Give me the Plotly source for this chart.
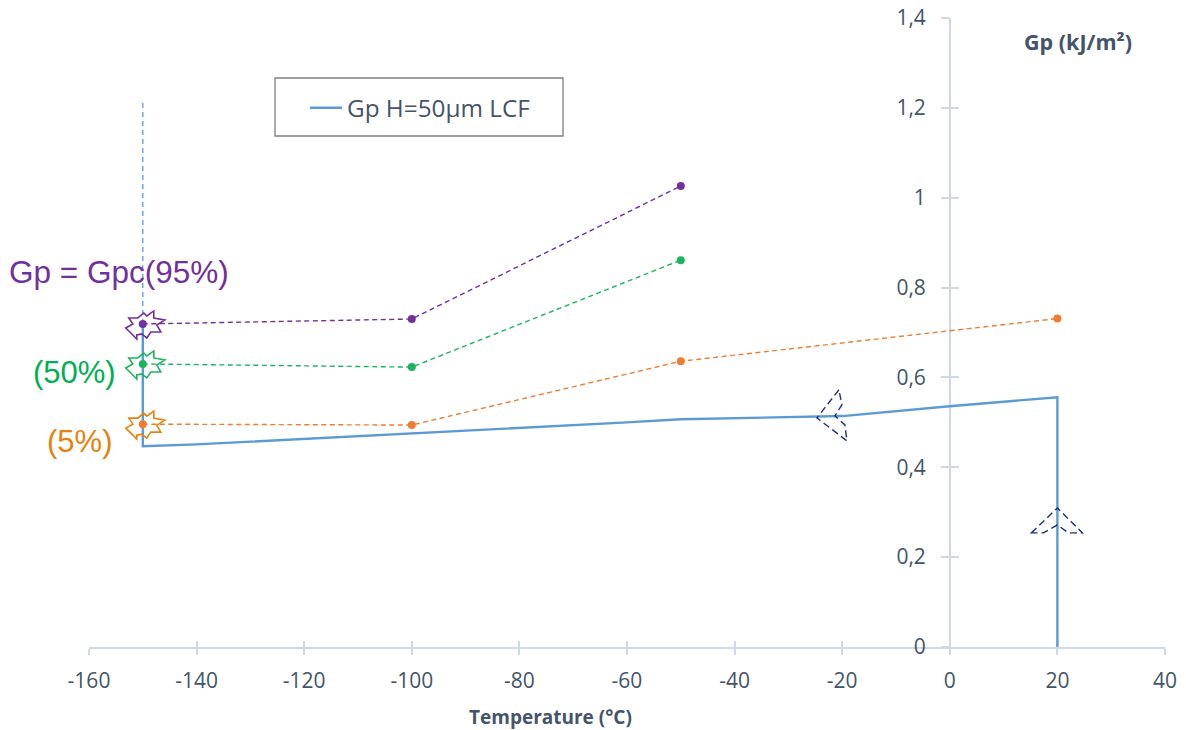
import plotly.graph_objects as go

# ---- data ----
blue_x = [20, 20, 10, 0, -20, -30, -50, -60, -80, -100, -120, -140, -150, -150]
blue_y = [0, 0.556, 0.546, 0.536, 0.514, 0.512, 0.507, 0.500, 0.488, 0.476, 0.463, 0.451, 0.447, 0.719]
guide_x = [-150, -150]
guide_y = [0.719, 1.217]
orange_x = [-150, -100, -50, 20]
orange_y = [0.496, 0.494, 0.636, 0.731]
green_x = [-150, -100, -50]
green_y = [0.630, 0.623, 0.861]
purple_x = [-150, -100, -50]
purple_y = [0.719, 0.730, 1.026]
x_ticks = [-160, -140, -120, -100, -80, -60, -40, -20, 0, 20, 40]
x_labels = [str(v) for v in x_ticks]
y_ticks = [0, 0.2, 0.4, 0.6, 0.8, 1, 1.2, 1.4]
y_labels = ["0", "0,2", "0,4", "0,6", "0,8", "1", "1,2", "1,4"]

W, H = 1186, 730
L, R, T, B = 89, 1165, 18, 647
TXT = "#44546A"
AX = "#D0D7E5"
BLUE = "#5B9BD5"
ORANGE = "#ED7D31"
GREEN = "#1DB45E"
PURPLE = "#7030A0"
NAVY = "#1F2F7A"
FONT = "Open Sans"

fig = go.Figure()
fig.add_trace(go.Scatter(x=guide_x, y=guide_y, mode="lines", showlegend=False,
                         line=dict(color=BLUE, width=1.3, dash="5px,4px")))
fig.add_trace(go.Scatter(x=blue_x, y=blue_y, mode="lines", name="Gp H=50µm LCF",
                         xaxis="x2", yaxis="y2", line=dict(color=BLUE, width=2.4)))
for xs, ys, c in [(orange_x, orange_y, ORANGE), (green_x, green_y, GREEN), (purple_x, purple_y, PURPLE)]:
    fig.add_trace(go.Scatter(x=xs, y=ys, mode="lines+markers", showlegend=False,
                             xaxis="x2", yaxis="y2",
                             line=dict(color=c, width=1.4, dash="5px,3.5px"),
                             marker=dict(color=c, size=8)))

STAR = [(1, 11), (4, 8), (11, 13), (11, 6), (22, 4), (14, -1), (18, -8), (8, -8), (4, -14),
        (-1, -10), (-6, -11), (-6, -15), (-11, -10), (-17, -4), (-10, 0), (-14, 6), (-5, 6)]
def star_path():
    return "M " + " L ".join(f"{a} {b}" for a, b in STAR) + " Z"

shapes = []
for y0, c in [(purple_y[0], PURPLE), (green_y[0], GREEN), (orange_y[0], "#E8820C")]:
    shapes.append(dict(type="path", xsizemode="pixel", ysizemode="pixel", xref="x", yref="y",
                       xanchor=-150, yanchor=y0, path=star_path(),
                       line=dict(color=c, width=1.6)))
# dashed arrow heads
shapes.append(dict(type="path", xsizemode="pixel", ysizemode="pixel", xref="x", yref="y",
                   xanchor=20, yanchor=0.254,
                   path="M -26 0 L 0 25 L 25 0 L 11 0 L 0 8 L -14 0 Z",
                   line=dict(color=NAVY, width=1.4, dash="7px,4px")))
shapes.append(dict(type="path", xsizemode="pixel", ysizemode="pixel", xref="x", yref="y",
                   xanchor=-24.7, yanchor=0.51,
                   path="M 22 28 L 0 0 L 30 -23 L 28 -7 L 18 2 L 25 13 Z",
                   line=dict(color=NAVY, width=1.4, dash="7px,4px")))
# legend frame
pw, ph = R - L, B - T
def px(v): return (v - L) / pw
def py(v): return (B - v) / ph
shapes.append(dict(type="rect", xref="paper", yref="paper", x0=px(275), x1=px(563), y0=py(136), y1=py(78),
                   line=dict(color="#7F7F7F", width=1.3), layer="below"))

def note(text, cx, cy, size, color, family, bold=False):
    return dict(text=f"<b>{text}</b>" if bold else text, xref="paper", yref="paper", x=px(cx), y=py(cy),
                xanchor="center", yanchor="middle", showarrow=False,
                font=dict(size=size, color=color, family=family))

annotations = [
    note("Gp = Gpc(95%)", 119, 272, 31.5, PURPLE, "Liberation Sans"),
    note("(50%)", 74, 372, 31, "#00B050", "Liberation Sans"),
    note("(5%)", 79, 441, 31, "#E8820C", "Liberation Sans"),
    note("Temperature (°C)", 550, 717, 19, TXT, FONT, True),
    note("Gp (kJ/m²)", 1078, 42, 21.5, TXT, FONT, True),
]

base_x = dict(range=[-160, 40], tickvals=x_ticks, ticktext=x_labels, showgrid=False, zeroline=False,
              layer="below traces", automargin=False, showline=True, linecolor=AX, linewidth=1.5,
              tickcolor=AX, tickwidth=1.5)
base_y = dict(range=[0, 1.4], tickvals=y_ticks, ticktext=y_labels, showgrid=False, zeroline=False,
              layer="below traces", automargin=False, showline=True, linecolor=AX, linewidth=1.5,
              tickcolor=AX, tickwidth=1.5)

fig.update_layout(
    width=W, height=H, autosize=False,
    margin=dict(l=L, r=W - R, t=T, b=H - B, pad=0),
    plot_bgcolor="white", paper_bgcolor="white",
    font=dict(family=FONT, color=TXT, size=21),
    xaxis=dict(base_x, ticks="inside", ticklen=6, anchor="y", showticklabels=False),
    yaxis=dict(base_y, ticks="inside", ticklen=8, anchor="free", position=0.8, side="left",
               showticklabels=False),
    xaxis2=dict(base_x, ticks="outside", ticklen=6, anchor="y", overlaying="x", ticklabelstandoff=8,
                tickfont=dict(size=21, color=TXT, family=FONT)),
    yaxis2=dict(base_y, ticks="outside", ticklen=8, anchor="free", position=0.8, side="left",
                overlaying="y", ticklabelstandoff=11,
                tickfont=dict(size=21, color=TXT, family=FONT)),
    showlegend=True,
    legend=dict(x=px(305), y=py(108), xanchor="left", yanchor="middle", bgcolor="rgba(0,0,0,0)",
                borderwidth=0, itemwidth=32, font=dict(size=24.3, color=TXT, family=FONT)),
    shapes=shapes, annotations=annotations,
)
fig.write_html("out.html", config=dict(displayModeBar=False),
               post_script="document.body.style.margin='0';")
